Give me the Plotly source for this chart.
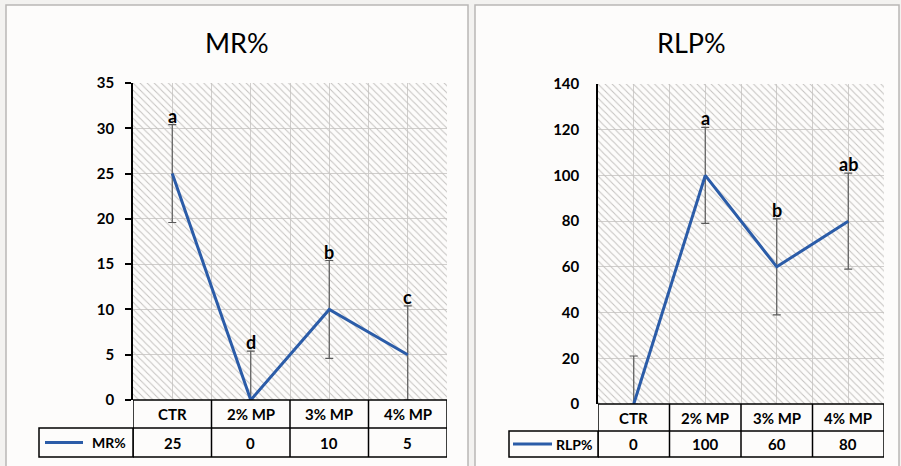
import plotly.graph_objects as go

# ---------------- data ----------------
categories = ["CTR", "2% MP", "3% MP", "4% MP"]

mr_name = "MR%"
mr_values = [25, 0, 10, 5]
mr_errors = [5.4, 5.4, 5.4, 5.4]
mr_letters = ["a", "d", "b", "c"]
mr_ticks = [0, 5, 10, 15, 20, 25, 30, 35]

rlp_name = "RLP%"
rlp_values = [0, 100, 60, 80]
rlp_errors = [21, 21, 21, 21]
rlp_letters = ["", "a", "b", "ab"]
rlp_ticks = [0, 20, 40, 60, 80, 100, 120, 140]

# ---------------- styling ----------------
W, H = 901, 466
FONT = "Lato"
LINE_COLOR = "#2b5ca8"
ERR_COLOR = "#5a5a5a"
GRID = "#d0cecc"
HATCH = "#c4c2c0"


def px(x):
    return x / W


def py(y):
    return 1 - y / H


fig = go.Figure()

panels = [
    dict(name=mr_name, vals=mr_values, errs=mr_errors, letters=mr_letters, ticks=mr_ticks,
         xa="x", ya="y", xdom=(133, 447), ydom=(400, 83), row_mid=428, row_bot=457,
         leg_left=39, leg_line=(45, 83), leg_text=128, title_x=237, box=(6, 468),
         ticks_out=True),
    dict(name=rlp_name, vals=rlp_values, errs=rlp_errors, letters=rlp_letters, ticks=rlp_ticks,
         xa="x2", ya="y2", xdom=(598, 884), ydom=(404, 84), row_mid=431, row_bot=457,
         leg_left=509, leg_line=(513, 552), leg_text=594, title_x=691, box=(475, 899),
         ticks_out=False),
]

shapes = []
annotations = []

for i, p in enumerate(panels):
    n = len(categories)
    xs = list(range(n))
    ymax = p["ticks"][-1]
    # panel background box
    shapes.append(dict(type="rect", xref="paper", yref="paper",
                       x0=px(p["box"][0]), x1=px(p["box"][1]), y0=py(5), y1=py(470),
                       line=dict(color="#b9b7b5", width=1.5), fillcolor="#fdfcfb", layer="below"))
    # hatched background
    fig.add_trace(go.Bar(x=xs, y=[ymax] * n, width=1, xaxis=p["xa"], yaxis=p["ya"],
                         marker=dict(color=HATCH, line=dict(width=0),
                                     pattern=dict(shape="\\", size=5, solidity=0.2,
                                                  fillmode="replace")),
                         hoverinfo="skip", showlegend=False))
    # data line with error bars
    fig.add_trace(go.Scatter(x=xs, y=p["vals"], mode="lines", xaxis=p["xa"], yaxis=p["ya"],
                             line=dict(color=LINE_COLOR, width=3), name=p["name"],
                             showlegend=False,
                             error_y=dict(type="data", symmetric=False, array=p["errs"],
                                          arrayminus=[min(e, v) for e, v in zip(p["errs"], p["vals"])],
                                          color=ERR_COLOR, thickness=1.2, width=4)))
    # significance letters
    for x, v, e, t in zip(xs, p["vals"], p["errs"], p["letters"]):
        if t:
            annotations.append(dict(x=x, y=v + e, xref=p["xa"], yref=p["ya"], text=t,
                                    showarrow=False, yanchor="bottom", yshift=-4,
                                    font=dict(family=FONT, size=18, color="black", weight="bold")))
    # title
    annotations.append(dict(x=px(p["title_x"]), y=py(42), xref="paper", yref="paper",
                            text=p["name"], showarrow=False, xanchor="center", yanchor="middle",
                            font=dict(family=FONT, size=27, color="black")))
    # data table
    top = p["ydom"][0]
    mid = p["row_mid"]
    bot = p["row_bot"]
    lw = dict(color="black", width=1.5)
    xr = p["xa"]
    shapes.append(dict(type="rect", xref=xr, yref="paper", x0=-0.5, x1=n - 0.5,
                       y0=py(top), y1=py(bot), line=lw))
    shapes.append(dict(type="line", xref=xr, yref="paper", x0=-0.5, x1=n - 0.5,
                       y0=py(mid), y1=py(mid), line=lw))
    shapes.append(dict(type="rect", xref="paper", yref="paper", x0=px(p["leg_left"]),
                       x1=px(p["xdom"][0]), y0=py(mid), y1=py(bot), line=lw))
    for k in range(1, n):
        shapes.append(dict(type="line", xref=xr, yref="paper", x0=k - 0.5, x1=k - 0.5,
                           y0=py(top), y1=py(bot), line=lw))
    for x, c, v in zip(xs, categories, p["vals"]):
        annotations.append(dict(x=x, y=py((top + mid) / 2), xref=xr, yref="paper", text=c,
                                showarrow=False, yanchor="middle",
                                font=dict(family=FONT, size=15, color="black", weight="bold")))
        annotations.append(dict(x=x, y=py((mid + bot) / 2), xref=xr, yref="paper", text=str(v),
                                showarrow=False, yanchor="middle",
                                font=dict(family=FONT, size=15, color="black", weight="bold")))
    # legend key in table
    shapes.append(dict(type="line", xref="paper", yref="paper", x0=px(p["leg_line"][0]),
                       x1=px(p["leg_line"][1]), y0=py((mid + bot) / 2), y1=py((mid + bot) / 2),
                       line=dict(color=LINE_COLOR, width=3)))
    annotations.append(dict(x=px(p["leg_text"]), y=py((mid + bot) / 2), xref="paper", yref="paper",
                            text=p["name"], showarrow=False, xanchor="right", yanchor="middle",
                            font=dict(family=FONT, size=14, color="black", weight="bold")))

    # axes
    sfx = "" if i == 0 else "2"
    fig.layout["xaxis" + sfx] = dict(
        domain=[px(p["xdom"][0]), px(p["xdom"][1])], range=[-0.5, n - 0.5],
        anchor=p["ya"], tickvals=[k * 0.5 - 0.5 for k in range(2 * n + 1)],
        showticklabels=False, ticks="", showgrid=True, gridcolor=GRID, gridwidth=1,
        zeroline=False, showline=False, fixedrange=True, automargin=False)
    fig.layout["yaxis" + sfx] = dict(
        domain=[py(p["ydom"][0]), py(p["ydom"][1])], range=[0, ymax], anchor=p["xa"],
        tickvals=p["ticks"], showgrid=True, gridcolor=GRID, gridwidth=1, zeroline=False,
        showline=True, linecolor="black", linewidth=1.5,
        ticks="outside" if p["ticks_out"] else "", ticklen=6, tickcolor="black", tickwidth=1.5,
        ticklabelstandoff=8 if p["ticks_out"] else 14, automargin=False,
        tickfont=dict(family=FONT, size=15, color="black", weight="bold"), fixedrange=True)

fig.update_layout(width=W, height=H, autosize=False,
                  margin=dict(l=0, r=0, t=0, b=0, pad=0),
                  paper_bgcolor="#f3f2f0", plot_bgcolor="rgba(0,0,0,0)",
                  bargap=0, barmode="overlay", showlegend=False,
                  shapes=shapes, annotations=annotations,
                  font=dict(family=FONT, color="black"))

fig.write_html("out.html", config={"displayModeBar": False},
               post_script="document.body.style.margin='0';document.body.style.overflow='hidden';")
